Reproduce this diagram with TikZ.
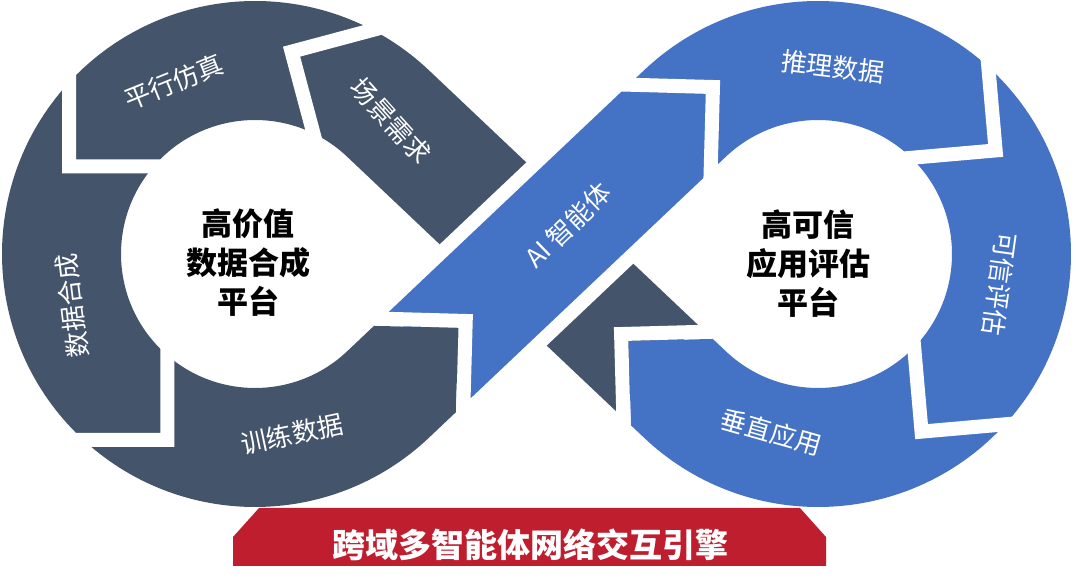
\documentclass[tikz,border=0pt]{standalone}
\usepackage{fontspec}
\setmainfont{Noto Sans CJK SC}
\usetikzlibrary{calc}
\definecolor{slate}{HTML}{44546A}
\definecolor{azure}{HTML}{4472C4}
\definecolor{crimson}{RGB}{190,30,46}
\begin{document}
\begin{tikzpicture}[x=1pt,y=1pt,
  ribbon/.style={line width=119pt},
  ringcut/.style={draw=white,line width=14pt,line join=miter},
  seglabel/.style={text=white,font=\fontsize{26}{30}\selectfont},
  hublabel/.style={align=center,font=\fontsize{31}{39}\selectfont\bfseries}]
  \useasboundingbox (0,0) rectangle (1080,584);
  \pgfmathsetmacro\phiang{asin(193.5/281.5)}
  \pgfmathsetmacro\bandup{180-\phiang}
  \pgfmathsetmacro\tanlo{270+\phiang}
  \pgfmathsetmacro\tanhi{90-\phiang}
  \pgfmathsetmacro\tanrhi{90+\phiang}
  \pgfmathsetmacro\tanrlo{-90-\phiang}
  \coordinate (L) at (255,330);
  \coordinate (R) at (818,330);
  \coordinate (T1) at ($(L)+(\tanlo:193.5)$);
  \coordinate (T2) at ($(L)+(\tanhi:193.5)$);
  \coordinate (T3) at ($(R)+(\tanrhi:193.5)$);
  \coordinate (T4) at ($(R)+(\tanrlo:193.5)$);
  % dark loop, then the blue loop over it
  \draw[ribbon,slate] ($(T4)+(\bandup:38.5)$) -- (T2)
    arc[start angle=\tanhi,end angle=\tanlo,radius=193.5] -- ($(T1)+(\phiang:37.5)$);
  \draw[ribbon,white,line width=147pt] ($(T1)+(\phiang:57.5)$) -- (T3);
  \draw[ribbon,azure] ($(T1)+(\phiang:57.5)$) -- (T3)
    arc[start angle=\tanrhi,end angle=\tanrlo,radius=193.5] -- ($(T4)+(\bandup:18.5)$);
  \fill[slate,shift={(T1)},rotate=\phiang] (37,-59.5) -- (97,0) -- (37,59.5) -- cycle;
  \fill[azure,shift={(T4)},rotate=\bandup] (18,-59.5) -- (78,0) -- (18,59.5) -- cycle;
  % chevron gaps
  \foreach \t in {60,135,225}
    \draw[ringcut,shift={(L)},rotate=\t] (265,-2) -- (193.5,69.5) -- (122,-2);
  \foreach \t in {50,-40}
    \draw[ringcut,shift={(R)},rotate=\t,yscale=-1] (265,-2) -- (193.5,69.5) -- (122,-2);
  \draw[ringcut,shift={(T1)},rotate=\phiang] (35.5,71.5) -- (107,0) -- (35.5,-71.5);
  \draw[ringcut,shift={(T3)},rotate=\phiang] (-33,71.5) -- (38.5,0) -- (-33,-71.5);
  \draw[ringcut,shift={(T4)},rotate=\bandup] (16.5,71.5) -- (88,0) -- (16.5,-71.5);
  \node[seglabel,rotate=22] (sim) at (174,502) {平行仿真};
  \node[seglabel,rotate=-48] (scene) at (391,463) {场景需求};
  \node[seglabel,rotate=97] (synth) at (72,278) {数据合成};
  \node[seglabel,rotate=12] (train) at (292,150) {训练数据};
  \node[seglabel,rotate=44] (agent) at (568,359) {AI 智能体};
  \node[seglabel,rotate=-7] (infer) at (833,517) {推理数据};
  \node[seglabel,rotate=-98] (trust) at (1000,300) {可信评估};
  \node[seglabel,rotate=-16] (vert) at (771,152) {垂直应用};
  \node[hublabel] (lefthub) at (248,321) {高价值\\数据合成\\平台};
  \node[hublabel] (righthub) at (808,320) {高可信\\应用评估\\平台};
  \fill[crimson] (233,18) -- (233,47) -- (259,76) -- (800,76) -- (826,47) -- (826,18) -- cycle;
  \node[text=white,font=\fontsize{33}{36}\selectfont\bfseries] (engine) at (530,39) {跨域多智能体网络交互引擎};
\end{tikzpicture}
\end{document}
